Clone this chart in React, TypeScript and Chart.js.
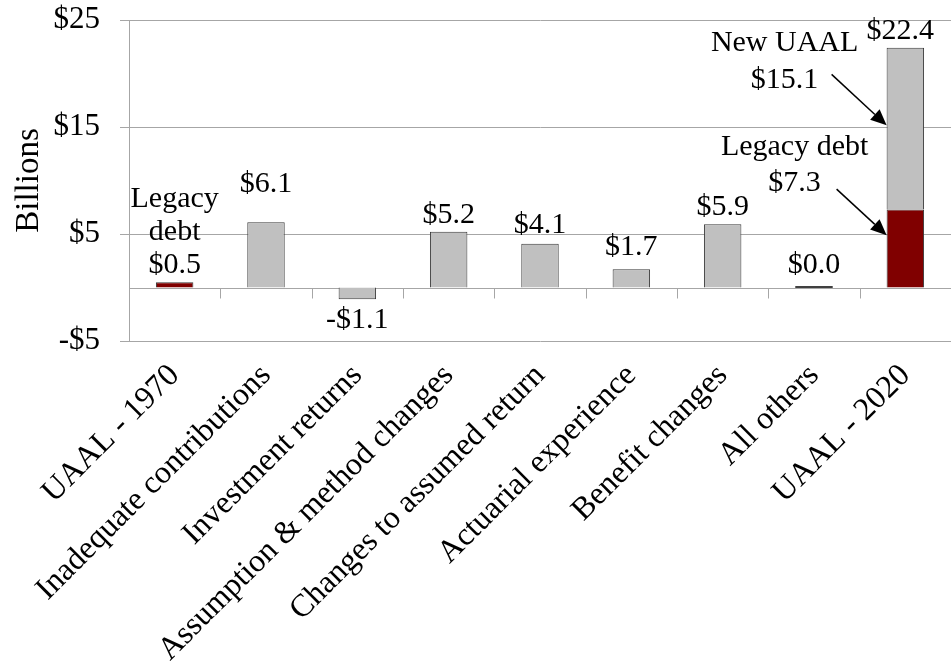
import React, { useEffect, useRef } from 'react';
import { Chart, registerables } from 'chart.js';

Chart.register(...registerables);

// ---- data ----
const categories = [
  'UAAL - 1970',
  'Inadequate contributions',
  'Investment returns',
  'Assumption & method changes',
  'Changes to assumed return',
  'Actuarial experience',
  'Benefit changes',
  'All others',
  'UAAL - 2020',
];
const legacyDebt: (number | null)[] = [0.5, null, null, null, null, null, null, null, 7.3];
const newUaal: (number | null)[] = [null, 6.1, -1.1, 5.2, 4.1, 1.7, 5.9, 0.0, 15.1];
const yTickValues = [-5, 5, 15, 25];
const yMin = -5;
const yMax = 25;
const axisTitle = 'Billions';
const firstBarNote = ['Legacy', 'debt'];
const newUaalNote = 'New UAAL';
const legacyNote = 'Legacy debt';

// ---- style ----
const FONT = "'Liberation Serif', 'Times New Roman', Times, serif";
const LABEL_SIZE = 30;
const GRID = '#a6a6a6';
const GRAY = '#c0c0c0';
const RED = '#800000';
const BAR_BORDER = '#3a3a3a';
const labelExtraLift = [0, 21, 0, 0, 2, 5, 0, 5, 0];

const money = (v: number, digits: number) =>
  (v < 0 ? '-' : '') + '$' + Math.abs(v).toFixed(digits);

function drawArrow(ctx: CanvasRenderingContext2D, x1: number, y1: number, x2: number, y2: number) {
  const ang = Math.atan2(y2 - y1, x2 - x1);
  const head = 16;
  const half = 7;
  const bx = x2 - head * Math.cos(ang);
  const by = y2 - head * Math.sin(ang);
  ctx.beginPath();
  ctx.moveTo(x1, y1);
  ctx.lineTo(bx, by);
  ctx.lineWidth = 1.5;
  ctx.strokeStyle = '#000';
  ctx.stroke();
  ctx.beginPath();
  ctx.moveTo(x2, y2);
  ctx.lineTo(bx + half * Math.sin(ang), by - half * Math.cos(ang));
  ctx.lineTo(bx - half * Math.sin(ang), by + half * Math.cos(ang));
  ctx.closePath();
  ctx.fillStyle = '#000';
  ctx.fill();
}

const annotatePlugin = {
  id: 'annotate',
  beforeDatasetsDraw(chart: any) {
    const { ctx, chartArea, scales } = chart;
    const x = scales.x;
    const y = scales.y;
    const y0 = Math.round(y.getPixelForValue(0)) + 0.5;
    ctx.save();
    ctx.strokeStyle = GRID;
    ctx.lineWidth = 1;
    ctx.beginPath();
    ctx.moveTo(chartArea.left, y0);
    ctx.lineTo(chartArea.right, y0);
    for (let i = 1; i < categories.length; i++) {
      const xb = Math.round((x.getPixelForValue(i - 1) + x.getPixelForValue(i)) / 2) + 0.5;
      ctx.moveTo(xb, y0);
      ctx.lineTo(xb, y0 + 10);
    }
    ctx.stroke();
    ctx.restore();
  },
  afterDatasetsDraw(chart: any) {
    const { ctx, scales } = chart;
    const x = scales.x;
    const y = scales.y;
    ctx.save();
    ctx.font = `${LABEL_SIZE}px ${FONT}`;
    ctx.fillStyle = '#000';
    ctx.textAlign = 'center';
    ctx.textBaseline = 'middle';
    const metaL = chart.getDatasetMeta(0);
    const metaN = chart.getDatasetMeta(1);
    categories.forEach((_, i) => {
      const total = (legacyDebt[i] ?? 0) + (newUaal[i] ?? 0);
      const cx = x.getPixelForValue(i);
      const end = y.getPixelForValue(total);
      let ty: number;
      if (total < 0) ty = end + 21;
      else ty = end - 17 - labelExtraLift[i];
      if (i === 0) {
        firstBarNote.forEach((t, k) => {
          ctx.fillText(t, cx, ty - (firstBarNote.length - k) * 33);
        });
      }
      ctx.fillStyle = '#000';
      ctx.fillText(money(total, 1), i === categories.length - 1 ? cx - 5 : cx, ty);
      if (total === 0) {
        const el = metaN.data[i];
        if (el) {
          ctx.beginPath();
          ctx.strokeStyle = '#000';
          ctx.lineWidth = 1.5;
          ctx.moveTo(el.x - el.width / 2, y.getPixelForValue(0) - 0.5);
          ctx.lineTo(el.x + el.width / 2, y.getPixelForValue(0) - 0.5);
          ctx.stroke();
        }
      }
    });

    const last = categories.length - 1;
    const gEl = metaN.data[last];
    const rEl = metaL.data[last];
    if (gEl && rEl) {
      const gx = gEl.x - gEl.width / 2;
      const gy = gEl.base + (gEl.y - gEl.base) * 0.52;
      ctx.fillText(newUaalNote, gx - 102, gy - 82);
      ctx.fillText(money(newUaal[last] as number, 1), gx - 102, gy - 45);
      drawArrow(ctx, gx - 55, gy - 51, gx, gy);
      const rx = rEl.x - rEl.width / 2;
      const ry = rEl.base + (rEl.y - rEl.base) * 0.67;
      ctx.fillText(legacyNote, rx - 92, ry - 88);
      ctx.fillText(money(legacyDebt[last] as number, 1), rx - 92, ry - 52);
      drawArrow(ctx, rx - 50, ry - 46, rx, ry);
    }
    ctx.restore();
  },
};

export default function App() {
  const canvasRef = useRef<HTMLCanvasElement | null>(null);

  useEffect(() => {
    document.body.style.margin = '0';
    const canvas = canvasRef.current;
    if (!canvas) return;
    const chart = new Chart(canvas, {
      type: 'bar',
      data: {
        labels: categories,
        datasets: [
          {
            label: 'Legacy debt',
            data: legacyDebt,
            backgroundColor: RED,
            borderColor: BAR_BORDER,
            borderWidth: 1,
            categoryPercentage: 1,
            barPercentage: 0.41,
          },
          {
            label: 'New UAAL',
            data: newUaal,
            backgroundColor: GRAY,
            borderColor: BAR_BORDER,
            borderWidth: 1,
            categoryPercentage: 1,
            barPercentage: 0.41,
          },
        ],
      },
      options: {
        responsive: false,
        animation: false,
        layout: { padding: { top: 20, right: 0, left: 0, bottom: 0 } },
        plugins: {
          legend: { display: false },
          tooltip: { enabled: false },
        },
        scales: {
          x: {
            stacked: true,
            grid: { display: false },
            border: { display: false },
            ticks: {
              font: { family: FONT, size: 32 },
              color: '#000',
              minRotation: 45,
              maxRotation: 45,
              autoSkip: false,
              padding: 8,
            },
            afterFit: (s: any) => {
              s.height = 323;
            },
          },
          y: {
            stacked: true,
            min: yMin,
            max: yMax,
            afterBuildTicks: (s: any) => {
              s.ticks = yTickValues.map((v) => ({ value: v }));
            },
            grid: { color: GRID, lineWidth: 1, tickLength: 9, drawTicks: true },
            border: { display: true, color: GRID },
            ticks: {
              font: { family: FONT, size: 31 },
              color: '#000',
              padding: 20,
              callback: (v: any) => money(Number(v), 0),
            },
            title: {
              display: true,
              text: axisTitle,
              font: { family: FONT, size: 33 },
              color: '#000',
              padding: { top: 10, bottom: 0 },
            },
            afterFit: (s: any) => {
              s.width = 129;
              s.paddingTop = 0;
              s.paddingBottom = 0;
            },
          },
        },
      } as any,
      plugins: [annotatePlugin],
    });
    return () => chart.destroy();
  }, []);

  return (
    <div style={{ width: 951, height: 664, background: '#fff' }}>
      <canvas ref={canvasRef} width={951} height={664} style={{ display: 'block' }} />
    </div>
  );
}
